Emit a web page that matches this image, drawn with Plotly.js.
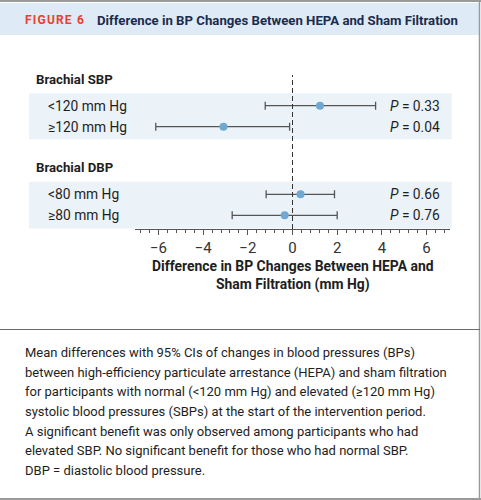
<!DOCTYPE html>
<html>
<head>
<meta charset="utf-8">
<script src="https://cdn.plot.ly/plotly-3.0.1.min.js"></script>
<style>
  html, body { margin: 0; padding: 0; background: #ffffff; }
  #chart { width: 481px; height: 500px; }
</style>
</head>
<body>
<div id="chart"></div>
<script>
// Subgroups and their labels
const groups = ["Brachial SBP", "Brachial DBP"];
const rowLabels = ["<120 mm Hg", "\u2265120 mm Hg", "<80 mm Hg", "\u226580 mm Hg"];
const rowGroup = [0, 0, 1, 1];

// Mean difference (HEPA − sham) with 95% CI bounds, mm Hg
const meanDiff = [1.23, -3.09, 0.36, -0.35];
const ciLow = [-1.22, -6.12, -1.18, -2.70];
const ciHigh = [3.72, -0.13, 1.88, 2.00];
const pValues = ["0.33", "0.04", "0.66", "0.76"];

// Canvas geometry (pixels)
const W = 481, H = 500;
const px = x => x / W;            // pixel x -> paper x
const py = y => 1 - y / H;        // pixel y -> paper y
const plotTop = 70, plotBottom = 229;

// vertical slot of each row, in pixels below the top of the plot area
const groupTop = [35.7, 124.3];
const rowStep = 21;
const rowY = rowLabels.map((_, i) => {
  const g = rowGroup[i];
  const k = rowGroup.slice(0, i).filter(v => v === g).length;
  return groupTop[g] + k * rowStep;
});

const baseFont = "Roboto, Open Sans, sans-serif";
const ink = "#1e1e1e";

const trace = {
  type: "scatter",
  mode: "markers",
  x: meanDiff,
  y: rowY,
  marker: { color: "#6fa8d1", size: 8 },
  error_x: {
    type: "data",
    symmetric: false,
    array: ciHigh.map((h, i) => h - meanDiff[i]),
    arrayminus: ciLow.map((l, i) => meanDiff[i] - l),
    color: "#555555",
    thickness: 1.3,
    width: 4
  },
  hoverinfo: "skip",
  showlegend: false
};

const annotations = [];

// figure heading
annotations.push({
  xref: "paper", yref: "paper", x: px(23), y: py(20),
  xanchor: "left", yanchor: "middle", showarrow: false,
  text: "<b><span style=\"letter-spacing:1.2px\">FIGURE 6</span></b>",
  font: { family: baseFont, size: 12, color: "#e8412f" }
});
annotations.push({
  xref: "paper", yref: "paper", x: px(95), y: py(20),
  xanchor: "left", yanchor: "middle", showarrow: false,
  text: "<b>Difference in BP Changes Between HEPA and Sham Filtration</b>",
  font: { family: baseFont, size: 13.2, color: "#1c2b4d" }
});

// group headers
const headerY = [79, 167.3];
groups.forEach((g, i) => {
  annotations.push({
    xref: "paper", yref: "paper", x: px(34), y: py(headerY[i]),
    xanchor: "left", yanchor: "middle", showarrow: false,
    text: "<b>" + g + "</b>",
    font: { family: baseFont, size: 13.2, color: ink }
  });
});

// row labels and P values
rowLabels.forEach((lab, i) => {
  annotations.push({
    xref: "paper", yref: "y", x: px(46), y: rowY[i],
    xanchor: "left", yanchor: "middle", showarrow: false,
    text: lab.replace("<", "&lt;"),
    font: { family: baseFont, size: 13.8, color: ink }
  });
  annotations.push({
    xref: "paper", yref: "y", x: px(442), y: rowY[i],
    xanchor: "right", yanchor: "middle", showarrow: false,
    text: "<i>P</i> = " + pValues[i],
    font: { family: baseFont, size: 13.8, color: ink }
  });
});

// axis title
annotations.push({
  xref: "paper", yref: "paper", x: px(293), y: py(275.5),
  xanchor: "center", yanchor: "middle", showarrow: false,
  text: "<b>Difference in BP Changes Between HEPA and<br>Sham Filtration (mm Hg)</b>",
  font: { family: baseFont, size: 13.9, color: ink }
});

// caption
const caption = [
  "Mean differences with 95% CIs of changes in blood pressures (BPs)",
  "between high-efficiency particulate arrestance (HEPA) and sham filtration",
  "for participants with normal (&lt;120 mm Hg) and elevated (\u2265120 mm Hg)",
  "systolic blood pressures (SBPs) at the start of the intervention period.",
  "A significant benefit was only observed among participants who had",
  "elevated SBP. No significant benefit for those who had normal SBP.",
  "DBP = diastolic blood pressure."
];
caption.forEach((line, i) => {
  annotations.push({
    xref: "paper", yref: "paper", x: px(23), y: py(352.3 + i * 19.7),
    xanchor: "left", yanchor: "middle", showarrow: false,
    text: line,
    font: { family: baseFont, size: 13, color: ink }
  });
});

const shapes = [
  // heading band
  { type: "rect", xref: "paper", yref: "paper", x0: 0, x1: px(479), y0: py(3), y1: py(35),
    fillcolor: "#deebf7", line: { width: 0 }, layer: "below" },
  // frame lines
  { type: "line", xref: "paper", yref: "paper", x0: 0, x1: 1, y0: py(1), y1: py(1),
    line: { color: "#9a9a9a", width: 2 } },
  { type: "line", xref: "paper", yref: "paper", x0: px(479.5), x1: px(479.5), y0: 0, y1: 1,
    line: { color: "#9a9a9a", width: 1.5 } },
  { type: "line", xref: "paper", yref: "paper", x0: 0, x1: px(480), y0: py(329.5), y1: py(329.5),
    line: { color: "#6b6b6b", width: 1 } },
  { type: "line", xref: "paper", yref: "paper", x0: 0, x1: 1, y0: py(499), y1: py(499),
    line: { color: "#9a9a9a", width: 2 } },
  // shaded group bands
  { type: "rect", xref: "paper", yref: "y", x0: px(29), x1: px(451.7),
    y0: rowY[0] - 12.4, y1: rowY[1] + 12.6,
    fillcolor: "#ebf3f9", line: { width: 0 }, layer: "below" },
  { type: "rect", xref: "paper", yref: "y", x0: px(29), x1: px(451.7),
    y0: rowY[2] - 12.6, y1: rowY[3] + 13.3,
    fillcolor: "#ebf3f9", line: { width: 0 }, layer: "below" },
  // line of no difference
  { type: "line", xref: "x", yref: "paper", x0: 0, x1: 0, y0: py(plotBottom), y1: py(75),
    line: { color: "#333333", width: 1, dash: "5px,3px" } }
];

const layout = {
  width: W, height: H,
  margin: { l: 0, r: 0, t: 0, b: 0 },
  paper_bgcolor: "#ffffff",
  plot_bgcolor: "rgba(0,0,0,0)",
  showlegend: false,
  xaxis: {
    domain: [px(135), px(450)],
    range: [-7.05, 7.05],
    anchor: "y",
    showgrid: false, zeroline: false,
    showline: true, linecolor: "#555555", linewidth: 1,
    ticks: "outside", ticklen: 5, tickcolor: "#555555", tickwidth: 1,
    tick0: 0, dtick: 2,
    minor: { ticks: "outside", dtick: 0.4, tick0: 0, ticklen: 2.5, tickcolor: "#555555", showgrid: false },
    tickfont: { family: baseFont, size: 15, color: "#333333" },
    fixedrange: true
  },
  yaxis: {
    domain: [py(plotBottom), py(plotTop)],
    range: [plotBottom - plotTop, 0],
    visible: false,
    fixedrange: true
  },
  shapes: shapes,
  annotations: annotations
};

Plotly.newPlot("chart", [trace], layout, { staticPlot: true, displayModeBar: false });
</script>
</body>
</html>
